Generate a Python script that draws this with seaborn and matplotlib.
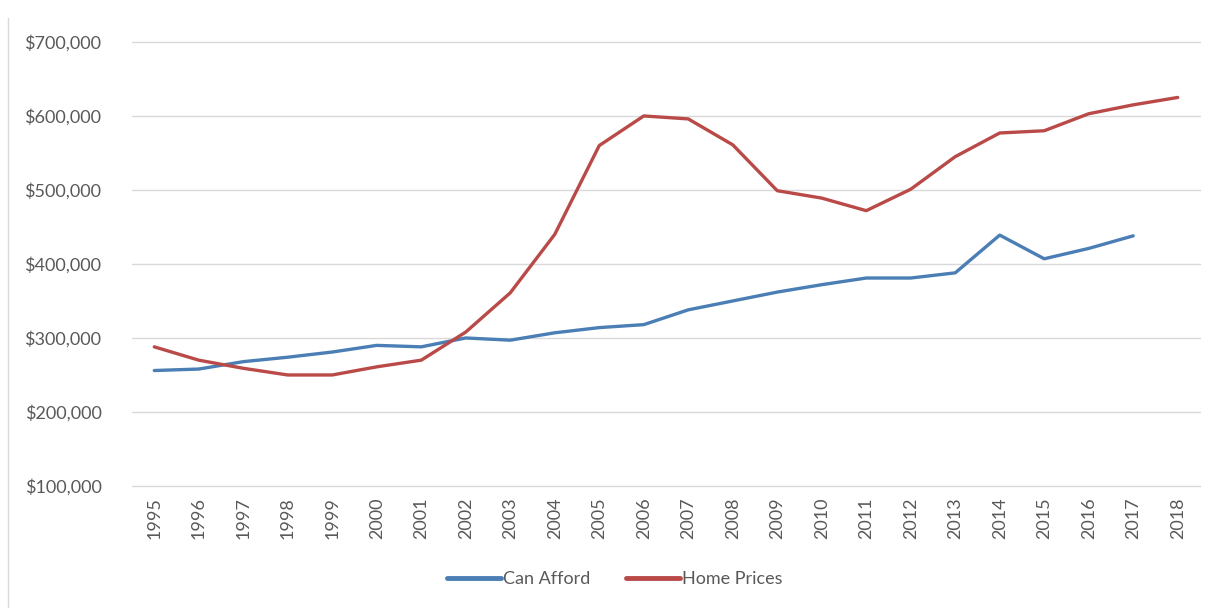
import numpy as np
import pandas as pd
import matplotlib
matplotlib.use("Agg")
import matplotlib.pyplot as plt
import matplotlib.ticker as mticker
from matplotlib.lines import Line2D
import seaborn as sns

years = list(range(1995, 2019))
can_afford = [256000, 258000, 268000, 274000, 281000, 290000, 288000, 300000,
              297000, 307000, 314000, 318000, 338000, 350000, 362000, 372000,
              381000, 381000, 388000, 439000, 407000, 421000, 438000, np.nan]
home_prices = [288000, 270000, 259000, 250000, 250000, 261000, 270000, 308000,
               361000, 440000, 560000, 600000, 596000, 561000, 499000, 489000,
               472000, 501000, 545000, 577000, 580000, 603000, 615000, 625000]

df = pd.DataFrame({"year": years, "Can Afford": can_afford, "Home Prices": home_prices})
long = df.melt(id_vars="year", var_name="series", value_name="value")

PALETTE = {"Can Afford": "#4a7eb5", "Home Prices": "#b94a48"}
TEXT = "#595959"

sns.set_style("white")
plt.rcParams["font.family"] = ["Lato", "DejaVu Sans"]

fig = plt.figure(figsize=(12.17, 6.08), dpi=100)
ax = fig.add_axes([0.1085, 0.2007, 0.8775, 0.7303])

sns.lineplot(data=long, x="year", y="value", hue="series", palette=PALETTE,
             linewidth=2.4, ax=ax, legend=False, clip_on=False)

ax.set_xlim(1994.5, 2018.5)
ax.set_ylim(100000, 700000)
ax.set_yticks(range(100000, 700001, 100000))
ax.yaxis.set_major_formatter(mticker.FuncFormatter(lambda v, p: f"${v:,.0f}"))
ax.set_xticks(years)
ax.set_xticklabels([str(y) for y in years], rotation=90)
ax.tick_params(axis="both", length=0, labelsize=13, colors=TEXT)
ax.tick_params(axis="y", pad=22)
ax.tick_params(axis="x", pad=8)
ax.grid(axis="y", color="#d9d9d9", linewidth=1)
for gl in ax.yaxis.get_gridlines():
    gl.set_clip_on(False)
ax.set_axisbelow(True)
for s in ax.spines.values():
    s.set_visible(False)
ax.set_xlabel("")
ax.set_ylabel("")

handles = [Line2D([0], [0], color=PALETTE[k], linewidth=3.5) for k in PALETTE]
fig.legend(handles, list(PALETTE.keys()), loc="center", bbox_to_anchor=(0.505, 0.047),
           ncol=2, frameon=False, fontsize=13, labelcolor=TEXT,
           handlelength=3.0, handletextpad=0.1, columnspacing=2.0)

# light chart border on the left
fig.add_artist(Line2D([0.0066, 0.0066], [0.0, 0.97], color="#d9d9d9", linewidth=1))

fig.savefig("out.png", dpi=100)
